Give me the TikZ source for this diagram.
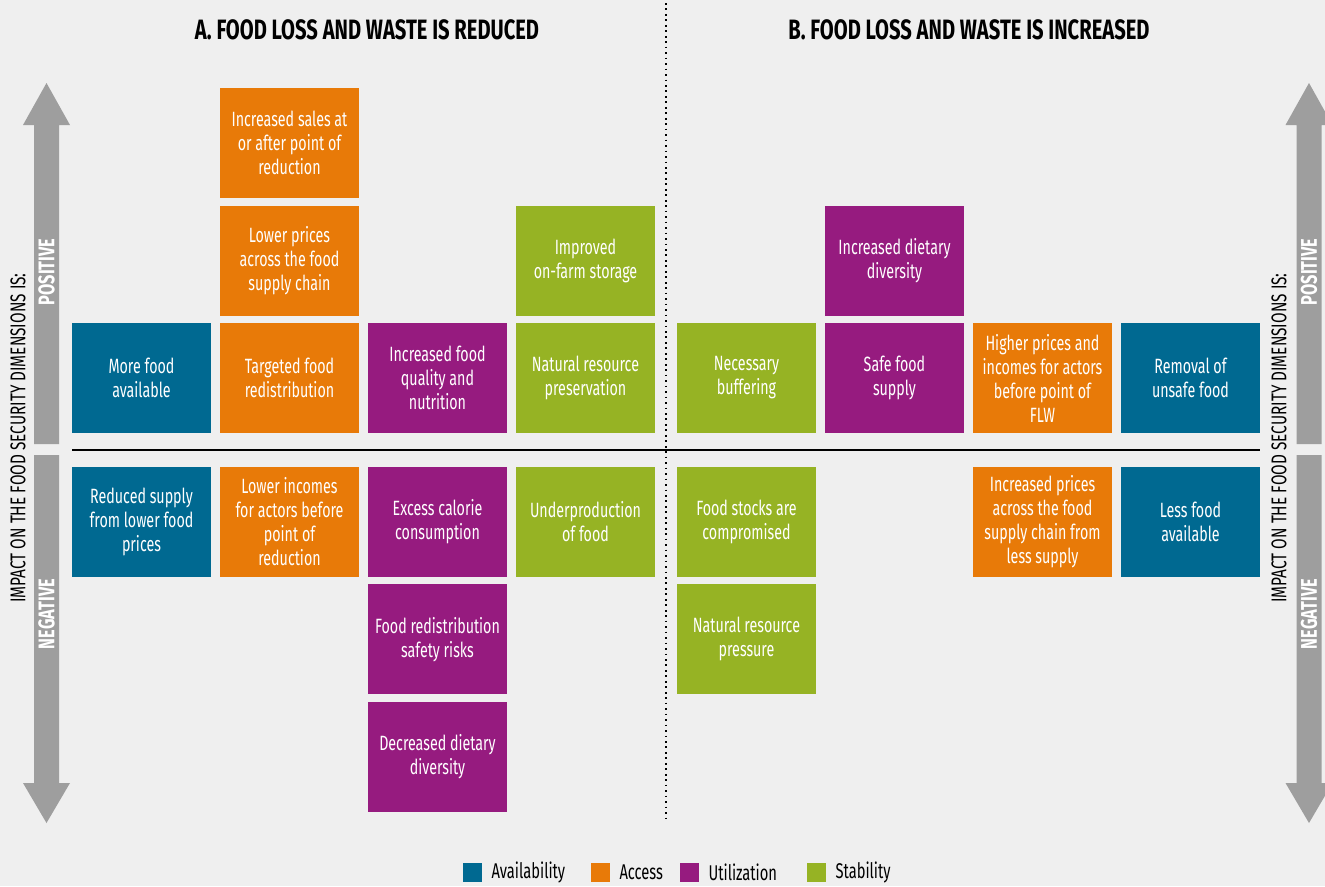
\documentclass[tikz,border=0pt]{standalone}
\usepackage{fontspec}
\setmainfont{Fira Sans}[FakeStretch=0.69]
\newfontfamily\widefont{Fira Sans}[FakeStretch=0.72]
\usetikzlibrary{positioning}

\definecolor{availcol}{HTML}{006991}
\definecolor{accesscol}{HTML}{E87A08}
\definecolor{utilcol}{HTML}{961B7F}
\definecolor{stabcol}{HTML}{96B324}
\definecolor{arrowcol}{HTML}{9E9E9E}
\definecolor{bgcol}{HTML}{EFEFEF}

\begin{document}
\begin{tikzpicture}[x=0.75pt,y=-0.75pt,
       node distance=5.5pt and 6.75pt]

    \tikzstyle{box}=[minimum width=104.25pt,minimum height=82.5pt,inner sep=0pt,outer sep=0pt,
        text=white,align=center,font=\fontsize{15.5}{18}\selectfont]
    \tikzstyle{avail}=[box,fill=availcol]
    \tikzstyle{access}=[box,fill=accesscol]
    \tikzstyle{util}=[box,fill=utilcol]
    \tikzstyle{stab}=[box,fill=stabcol]
    \tikzstyle{title}=[font=\widefont\bfseries\fontsize{21}{24}\selectfont]
    \tikzstyle{sidetext}=[rotate=90,font=\widefont\fontsize{16}{18}\selectfont]
    \tikzstyle{arrowtext}=[rotate=90,text=white,font=\widefont\bfseries\fontsize{17}{19}\selectfont]
    \tikzstyle{legsq}=[minimum size=14.25pt,inner sep=0pt]
    \tikzstyle{legtext}=[right=6.75pt,inner sep=0pt,font=\fontsize{16}{18}\selectfont]

    \useasboundingbox[fill=bgcol] (0,0) rectangle (1325,886);

    % titles
    \node[title] (titleA) at (367,30) {A. FOOD LOSS AND WASTE IS REDUCED};
    \node[title] (titleB) at (969,30) {B. FOOD LOSS AND WASTE IS INCREASED};

    % side arrows
    \foreach \cx in {46.5,1309}
    {
      \fill[arrowcol] (\cx-12.5,444) -- (\cx-12.5,125) -- (\cx-23.5,125) -- (\cx,83)
          -- (\cx+23.5,125) -- (\cx+12.5,125) -- (\cx+12.5,444) -- cycle;
      \fill[arrowcol] (\cx-12.5,455) -- (\cx-12.5,783) -- (\cx-23.5,783) -- (\cx,823)
          -- (\cx+23.5,783) -- (\cx+12.5,783) -- (\cx+12.5,455) -- cycle;
      \node[arrowtext] at (\cx,272) {POSITIVE};
      \node[arrowtext] at (\cx,614) {NEGATIVE};
    }
    \node[sidetext] (sideL) at (18,438) {IMPACT ON THE FOOD SECURITY DIMENSIONS IS:};
    \node[sidetext] (sideR) at (1279,438) {IMPACT ON THE FOOD SECURITY DIMENSIONS IS:};

    % A: positive
    \node[avail] (morefood) at (141.5,378) {More food\\available};
    \node[access,right=of morefood] (targeted) {Targeted food\\redistribution};
    \node[access,above=of targeted] (lowerprices) {Lower prices\\across the food\\supply chain};
    \node[access,above=of lowerprices] (sales) {Increased sales at\\or after point of\\reduction};
    \node[util,right=of targeted] (quality) {Increased food\\quality and\\nutrition};
    \node[stab,right=of quality] (preservation) {Natural resource\\preservation};
    \node[stab,above=of preservation] (storage) {Improved\\on-farm storage};

    % A: negative
    \node[avail] (reduced) at (141.5,522) {Reduced supply\\from lower food\\prices};
    \node[access,right=of reduced] (lowerinc) {Lower incomes\\for actors before\\point of\\reduction};
    \node[util,right=of lowerinc] (calorie) {Excess calorie\\consumption};
    \node[util,below=of calorie] (safety) {Food redistribution\\safety risks};
    \node[util,below=of safety] (decdiet) {Decreased dietary\\diversity};
    \node[stab,right=of calorie] (underprod) {Underproduction\\of food};

    % B: positive
    \node[stab] (buffering) at (746.5,378) {Necessary\\buffering};
    \node[util,right=of buffering] (safefood) {Safe food\\supply};
    \node[util,above=of safefood] (incdiet) {Increased dietary\\diversity};
    \node[access,right=of safefood] (higher) {Higher prices and\\incomes for actors\\before point of\\FLW};
    \node[avail,right=of higher] (removal) {Removal of\\unsafe food};

    % B: negative
    \node[stab] (stocks) at (746.5,522) {Food stocks are\\compromised};
    \node[stab,below=of stocks] (pressure) {Natural resource\\pressure};
    \node[access] (incprices) at (1042.5,522) {Increased prices\\across the food\\supply chain from\\less supply};
    \node[avail,right=of incprices] (lessfood) {Less food\\available};

    % dividers
    \draw[line width=1.6pt] (morefood.west |- 0,450) -- (removal.east |- 0,450);
    \draw[line width=1.3pt,dash pattern=on 1.3pt off 2.8pt] (666,3) -- (666,818);

    % legend
    \node[legsq,fill=availcol] (sqavail) at (472.5,872.5) {};
    \node[legtext] at (sqavail.east) {Availability};
    \node[legsq,fill=accesscol] (sqaccess) at (600.5,872.5) {};
    \node[legtext] at (sqaccess.east) {Access};
    \node[legsq,fill=utilcol] (squtil) at (689.5,872.5) {};
    \node[legtext] at (squtil.east) {Utilization};
    \node[legsq,fill=stabcol] (sqstab) at (816.5,872.5) {};
    \node[legtext] at (sqstab.east) {Stability};

\end{tikzpicture}
\end{document}
